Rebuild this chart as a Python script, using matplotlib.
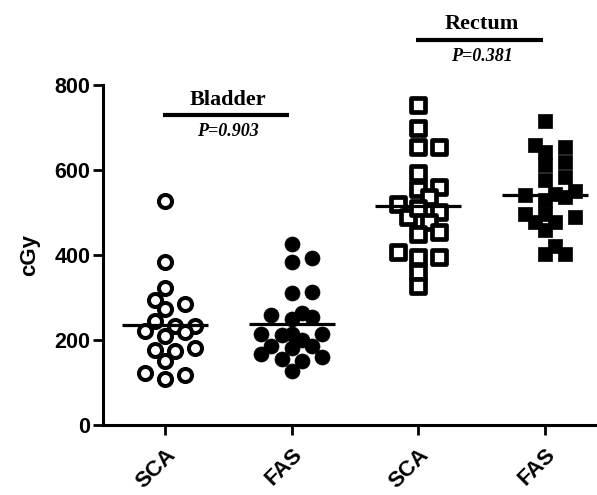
import numpy as np
import matplotlib.pyplot as plt
import matplotlib.transforms as mtransforms

# Data (cGy)
labels = ['SCA', 'FAS', 'SCA', 'FAS']
bladder_sca = [526, 384, 323, 294, 284, 274, 245, 233, 233, 221, 218, 209,
               177, 174, 181, 151, 122, 108, 118]
bladder_fas = [426, 383, 392, 313, 310, 258, 263, 255, 249, 211, 213, 213,
               213, 185, 182, 187, 155, 166, 160, 150, 126, 200]
rectum_sca = [753, 698, 655, 655, 592, 556, 560, 521, 537, 500, 490, 510,
              477, 450, 454, 395, 395, 408, 359, 327]
rectum_fas = [714, 659, 643, 655, 611, 619, 584, 576, 544, 550, 540, 536,
              530, 497, 477, 489, 497, 477, 458, 422, 402, 402]
groups = [bladder_sca, bladder_fas, rectum_sca, rectum_fas]
organs = ['Bladder', 'Rectum']
pvals = ['P=0.903', 'P=0.381']

px_x = 126.7   # pixels per category unit
px_y = 0.425   # pixels per cGy


def swarm(vals, diam=12, step=0.08, maxk=7):
    # simple beeswarm: nearest free horizontal slot, else least crowded one
    order = np.argsort(vals)
    placed = []
    offs = np.zeros(len(vals))
    for i in order:
        y = vals[i] * px_y
        best, best_d = 0.0, -1
        for k in range(maxk):
            cand = (k + 1) // 2 * step * (1 if k % 2 else -1)
            dmin = min([np.hypot((cand - xo) * px_x, y - yo) for xo, yo in placed],
                       default=1e9)
            if dmin >= diam:
                best = cand
                break
            if dmin > best_d:
                best, best_d = cand, dmin
        offs[i] = best
        placed.append((best, y))
    return offs


fig = plt.figure(figsize=(5.97, 4.95), dpi=100)
ax = fig.add_axes([0.1725, 0.1414, 0.8275, 0.687])

styles = [
    dict(marker='o', s=9.4 ** 2, facecolors='white', edgecolors='black', linewidths=2.9),
    dict(marker='o', s=10.8 ** 2, facecolors='black', edgecolors='black', linewidths=0.5),
    dict(marker='s', s=9.4 ** 2, facecolors='white', edgecolors='black', linewidths=3.4),
    dict(marker='s', s=10.5 ** 2, facecolors='black', edgecolors='black', linewidths=0.5),
]

for i, vals in enumerate(groups):
    vals = np.array(vals, dtype=float)
    xs = i + swarm(vals)
    ax.scatter(xs, vals, zorder=2, **styles[i])
    m = vals.mean()
    ax.plot([i - 0.34, i + 0.34], [m, m], color='black', lw=2.3, zorder=3,
            solid_capstyle='butt')

ax.set_xlim(-0.49, 3.41)
ax.set_ylim(0, 800)
ax.set_yticks([0, 200, 400, 600, 800])
ax.set_xticks(range(4))
ax.set_xticklabels(labels, rotation=45, ha='right', va='top',
                   rotation_mode='anchor', fontsize=16, fontweight='bold',
                   family='Liberation Sans')
shift = mtransforms.ScaledTranslation(-5 / 100, 0, fig.dpi_scale_trans)
for lab in ax.get_xticklabels():
    lab.set_transform(lab.get_transform() + shift)
for lab in ax.get_yticklabels():
    lab.set_fontsize(15.5)
    lab.set_fontweight('bold')
    lab.set_family('Liberation Sans')
ax.set_ylabel('cGy', fontsize=16, fontweight='bold', family='Liberation Sans',
              labelpad=10)

for side in ['top', 'right']:
    ax.spines[side].set_visible(False)
for side in ['left', 'bottom']:
    ax.spines[side].set_linewidth(2.2)
ax.tick_params(axis='both', width=2, length=7, direction='out')
ax.tick_params(axis='x', pad=7)
ax.tick_params(axis='y', pad=2)

# group brackets with p-values
bar_y = [729, 906]
for j in range(2):
    x0, x1 = 2 * j, 2 * j + 1
    yb = bar_y[j]
    ax.plot([x0 - 0.02, x1 - 0.02], [yb, yb], color='black', lw=3,
            clip_on=False, solid_capstyle='butt')
    ax.annotate(organs[j], xy=((x0 + x1) / 2, yb), xytext=(0, 4),
                textcoords='offset points', ha='center', va='bottom',
                family='Liberation Serif', fontweight='bold', fontsize=16,
                annotation_clip=False)
    ax.annotate(pvals[j], xy=((x0 + x1) / 2, yb), xytext=(0, -6),
                textcoords='offset points', ha='center', va='top',
                family='Liberation Serif', fontweight='bold', style='italic',
                fontsize=13, annotation_clip=False)

plt.savefig('out.png', dpi=100)
